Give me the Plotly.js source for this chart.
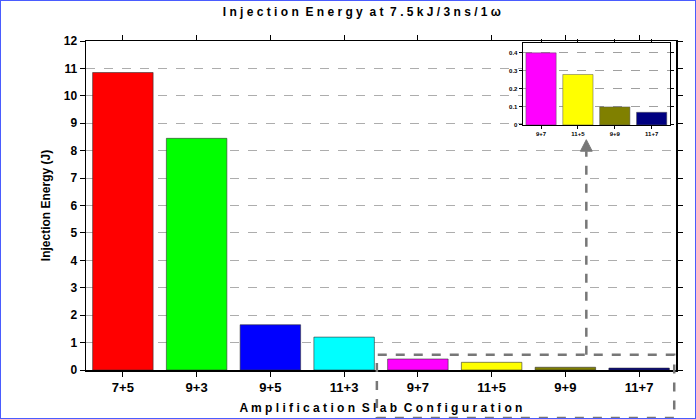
<!DOCTYPE html>
<html><head><script src="https://cdn.plot.ly/plotly-3.0.1.min.js"></script>
<style>body{margin:0}#c{width:696px;height:419px;box-sizing:border-box;border:1px solid #4a5cff}</style></head>
<body><div id="c"></div><script>
const categories=['7+5','9+3','9+5','11+3','9+7','11+5','9+9','11+7'];
const values=[10.85,8.45,1.65,1.2,0.4,0.28,0.1,0.07];
const colors=['#ff0000','#00ff00','#0000ff','#00ffff','#ff00ff','#ffff00','#808000','#000080'];
const insetCats=categories.slice(4), insetVals=values.slice(4), insetColors=colors.slice(4);
const F='Arial, Liberation Sans, sans-serif';
const data=[
{type:'bar',x:categories,y:values,marker:{color:colors,line:{color:'#333',width:0.6}},width:0.82,hoverinfo:'none'},
{type:'bar',x:insetCats,y:insetVals,xaxis:'x2',yaxis:'y2',marker:{color:insetColors,line:{color:'#555',width:0.5}},width:0.82,hoverinfo:'none'}
];
const ax={showline:true,linecolor:'#000',linewidth:1.5,mirror:'ticks',ticks:'outside',tickcolor:'#000',zeroline:false};
const layout={width:694,height:417,margin:{l:85,r:19,t:40,b:48},showlegend:false,paper_bgcolor:'#fff',plot_bgcolor:'#fff',
font:{family:F,color:'#000'},bargap:0.18,
title:{text:'I n j e c t i o n  E n e r g y  a t  7 . 5 k J / 3 n s / 1 ω',font:{size:12,weight:'bold'},x:0.52,y:0.985,yanchor:'top'},
xaxis:Object.assign({},ax,{tickfont:{size:13,family:F,weight:'bold'},ticklen:5,
 title:{text:'A m p l i f i c a t i o n  S l a b  C o n f i g u r a t i o n',font:{size:12,weight:'bold'},standoff:9}}),
yaxis:Object.assign({},ax,{range:[0,12],dtick:1,tickfont:{size:12,family:F,weight:'bold'},ticklen:5,
 showgrid:true,gridcolor:'#999',griddash:'dash',gridwidth:0.8,
 title:{text:'Injection Energy (J)',font:{size:12,weight:'bold'},standoff:10}}),
xaxis2:Object.assign({},ax,{domain:[0.74,0.99],anchor:'y2',tickfont:{size:6,weight:'bold'},ticklen:3,linewidth:1}),
yaxis2:Object.assign({},ax,{domain:[0.745,0.994],anchor:'x2',range:[0,0.455],dtick:0.1,tickfont:{size:6,weight:'bold'},ticklen:3,linewidth:1,
 showgrid:true,gridcolor:'#888',griddash:'dash',gridwidth:0.8}),
shapes:[
{type:'rect',xref:'paper',yref:'paper',x0:0.493,x1:0.997,y0:-0.146,y1:0.046,line:{color:'#777',width:2.5,dash:'dash'}},
{type:'line',xref:'paper',yref:'paper',x0:0.848,x1:0.848,y0:0.046,y1:0.665,line:{color:'#777',width:2.5,dash:'dash'}},
{type:'path',xref:'paper',yref:'paper',path:'M0.838,0.665 L0.858,0.665 L0.848,0.7 Z',fillcolor:'#777',line:{color:'#777',width:1}}
]};
Plotly.newPlot('c',data,layout,{displayModeBar:false,staticPlot:true});
</script></body></html>
